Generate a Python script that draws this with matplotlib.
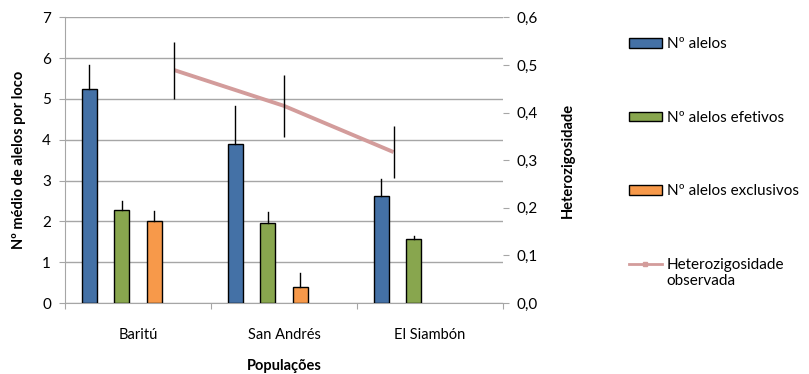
import numpy as np
import matplotlib
matplotlib.use('Agg')
import matplotlib.pyplot as plt
from matplotlib.patches import Patch
from matplotlib.lines import Line2D

populacoes = ['Baritú', 'San Andrés', 'El Siambón']
n_alelos = [5.25, 3.89, 2.62]
n_alelos_err = [0.58, 0.94, 0.41]
n_efetivos = [2.27, 1.95, 1.56]
n_efetivos_err = [0.22, 0.28, 0.09]
n_exclusivos = [2.02, 0.40, 0.0]
n_exclusivos_err = [0.24, 0.34, 0.0]
het_obs = [0.489, 0.414, 0.317]
het_obs_err = [0.06, 0.065, 0.055]

plt.rcParams['font.family'] = ['Lato', 'DejaVu Sans']

c_blue = '#4471A6'
c_green = '#88A64E'
c_orange = '#F7994A'
c_line = '#D39C9B'
c_grid = '#A6A6A6'

fig = plt.figure(figsize=(8.09, 3.74), dpi=100)
ax = fig.add_axes([0.0803, 0.1898, 0.5415, 0.7639])

x = np.arange(len(populacoes))
w = 0.222
bw = 0.105
series = [(n_alelos, n_alelos_err, c_blue), (n_efetivos, n_efetivos_err, c_green),
          (n_exclusivos, n_exclusivos_err, c_orange)]
for j, (vals, errs, col) in enumerate(series):
    pos = x + 0.5 + (j - 1.5) * w
    for p, v, e in zip(pos, vals, errs):
        if v <= 0:
            continue
        ax.bar(p, v, width=bw, color=col, edgecolor='black', linewidth=1.0, zorder=3)
        ax.plot([p, p], [v, v + e], color='black', lw=1.0, zorder=4)

ax.set_xlim(0, 3)
ax.set_ylim(0, 7)
ax.set_yticks(range(8))
ax.set_xticks([0, 1, 2, 3])
ax.set_xticklabels([])
ax.set_xticks(x + 0.5, minor=True)
ax.set_xticklabels(populacoes, minor=True, fontsize=10.5)
ax.tick_params(axis='x', which='minor', length=0, pad=18)
ax.tick_params(axis='x', which='major', length=4, color=c_grid, direction='out')
ax.tick_params(axis='y', length=4, color=c_grid, labelsize=11, pad=6)
ax.grid(axis='y', color=c_grid, lw=1.0, zorder=0)
for s in ['top', 'right']:
    ax.spines[s].set_visible(False)
for s in ['left', 'bottom']:
    ax.spines[s].set_color(c_grid)
ax.set_xlabel('Populações', fontsize=10.5, fontweight='bold', va='center')
ax.xaxis.set_label_coords(0.5, -0.222)
ax.set_ylabel('Nº médio de alelos por loco', fontsize=10.5, fontweight='bold', labelpad=12)

ax2 = fig.add_axes(ax.get_position(), frameon=False)
ax2.set_xlim(0, 4)
ax2.set_ylim(0, 0.6)
xl = np.arange(1, len(het_obs) + 1)
ax2.plot(xl, het_obs, color=c_line, lw=2.8, zorder=3, solid_capstyle='butt')
ax2.errorbar(xl, het_obs, yerr=het_obs_err, fmt='none', ecolor='black', elinewidth=1.0, capsize=0, zorder=4)
ax2.yaxis.tick_right()
ax2.yaxis.set_label_position('right')
ax2.set_yticks(np.arange(0, 0.61, 0.1))
ax2.set_yticklabels([('%.1f' % v).replace('.', ',') for v in np.arange(0, 0.61, 0.1)])
ax2.tick_params(axis='y', length=4, color=c_grid, labelsize=11, pad=6)
ax2.set_xticks([])
ax2.spines['right'].set_visible(True)
ax2.spines['right'].set_color(c_grid)
ax2.set_ylabel('Heterozigosidade', fontsize=10.5, fontweight='bold', labelpad=16)

handles = [Patch(facecolor=c_blue, edgecolor='black'),
           Patch(facecolor=c_green, edgecolor='black'),
           Patch(facecolor=c_orange, edgecolor='black'),
           Line2D([], [], color=c_line, lw=2.0, marker='s', markersize=3)]
labels = ['Nº alelos', 'Nº alelos efetivos', 'Nº alelos exclusivos', 'Heterozigosidade']
fig.legend(handles, labels, loc='upper left', bbox_to_anchor=(0.76, 0.937), frameon=False,
           fontsize=11, labelspacing=3.9, handlelength=2.2, handleheight=0.55, handletextpad=0.3)
# second line of the last legend label
fig.text(0.824, 0.248, 'observada', fontsize=11, va='center', ha='left')

fig.savefig('out.png', dpi=100)
